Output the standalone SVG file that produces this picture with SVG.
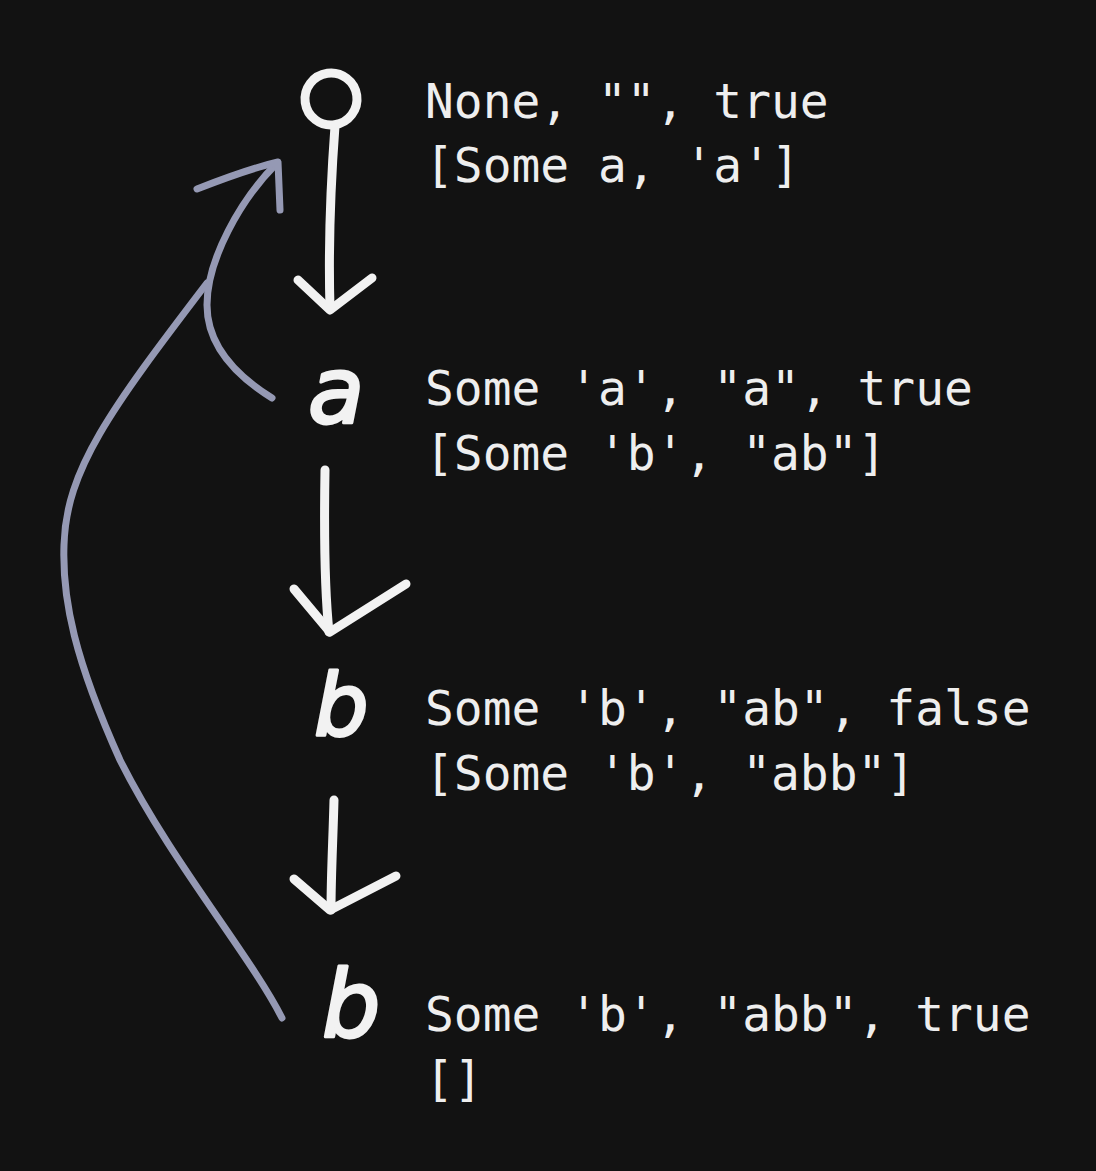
<svg xmlns="http://www.w3.org/2000/svg" width="1096" height="1171" viewBox="0 0 1096 1171">
<style>
.bg{fill:#121212}
.lbl{font-family:"DejaVu Sans Mono","Liberation Mono",monospace;font-size:47.9px;fill:#eeeeee}
.hand{font-family:"DejaVu Sans","Liberation Sans",sans-serif;font-style:italic;fill:#f2f2f2;stroke:#f2f2f2;stroke-width:3;stroke-linejoin:round}
.w{fill:none;stroke:#f2f2f2;stroke-width:9;stroke-linecap:round;stroke-linejoin:round}
.p{fill:none;stroke:#9599b4;stroke-width:7;stroke-linecap:round;stroke-linejoin:round}
</style>
<rect class="bg" x="0" y="0" width="1096" height="1171"/>
<g id="node-start">
<ellipse class="w" cx="331" cy="99" rx="26" ry="26" transform="rotate(-8 331 99)"/>
<text class="lbl" x="425" y="118">None, "", true</text>
<text class="lbl" x="425" y="182">[Some a, 'a']</text>
</g>
<g id="node-a">
<text class="hand" x="308" y="423" font-size="92">a</text>
<text class="lbl" x="425" y="405">Some 'a', "a", true</text>
<text class="lbl" x="425" y="470">[Some 'b', "ab"]</text>
</g>
<g id="node-b1">
<text class="hand" x="314" y="735" font-size="86">b</text>
<text class="lbl" x="425" y="725">Some 'b', "ab", false</text>
<text class="lbl" x="425" y="790">[Some 'b', "abb"]</text>
</g>
<g id="node-b2">
<text class="hand" x="322" y="1037" font-size="92">b</text>
<text class="lbl" x="425" y="1031">Some 'b', "abb", true</text>
<text class="lbl" x="425" y="1096">[]</text>
</g>
<g id="connectors">
<path class="w" d="M335,126 C331,180 328,240 330,308"/>
<path class="w" d="M298,280 L330,310 L372,278"/>
<path class="w" d="M325,470 C324,530 324,585 329,632"/>
<path class="w" d="M294,589 L330,632 L406,584"/>
<path class="w" d="M334,800 C333,840 331,875 331,910"/>
<path class="w" d="M294,879 L330,910 L396,876"/>
<path class="p" d="M272,398 C235,375 207,345 207,305 C207,260 240,200 277,163"/>
<path class="p" d="M197,189 C225,178 252,168 278,162 L280,210"/>
<path class="p" d="M282,1018 C250,955 170,860 120,760 C75,660 62,600 64,545 C66,470 110,410 207,283"/>
</g>
</svg>
